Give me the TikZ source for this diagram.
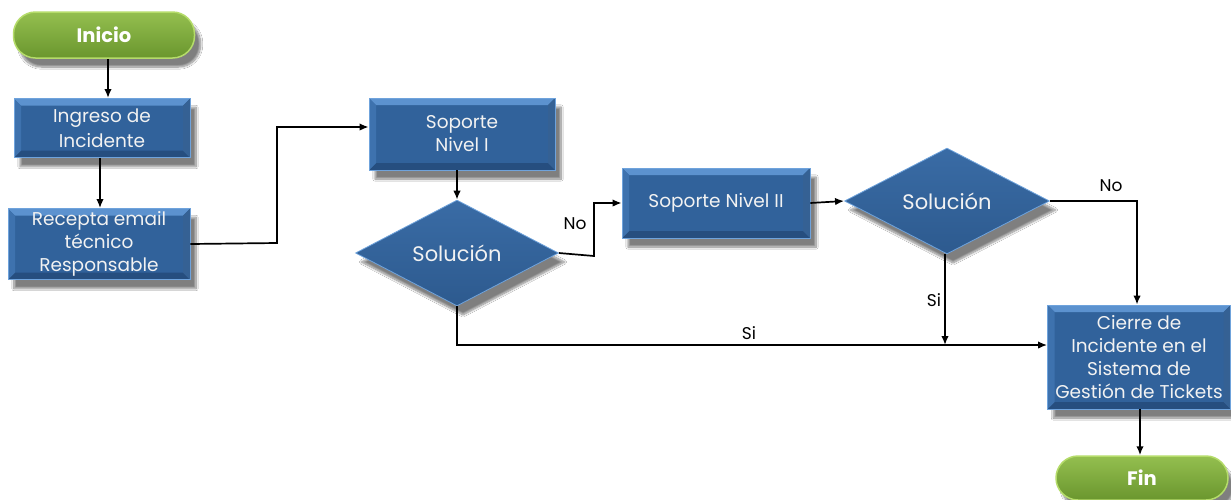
\documentclass[tikz,border=0pt]{standalone}
\usepackage{fontspec}
\setmainfont{Poppins}
\usetikzlibrary{shapes.geometric,shadows.blur,arrows.meta,calc}
\definecolor{face}{HTML}{31629B}
\definecolor{bvtop}{HTML}{5C92CF}
\definecolor{bvside}{HTML}{3E72AE}
\definecolor{bvbot}{HTML}{264E7F}
\definecolor{edge}{HTML}{6FA3DC}
\definecolor{gtop}{HTML}{94BF4F}
\definecolor{gbot}{HTML}{6A962E}
\definecolor{gedge}{HTML}{B5DC6A}
\definecolor{txt}{HTML}{F2F2F2}
\tikzset{
  shad/.style={blur shadow={shadow xshift=6pt,shadow yshift=-9pt,shadow blur steps=10,shadow opacity=50}},
  bevel/.style={path picture={
    \fill[bvtop] (path picture bounding box.north west) -- (path picture bounding box.north east)
      -- ([xshift=-7pt,yshift=-7pt]path picture bounding box.north east) -- ([xshift=7pt,yshift=-7pt]path picture bounding box.north west) -- cycle;
    \fill[bvbot] (path picture bounding box.south west) -- (path picture bounding box.south east)
      -- ([xshift=-7pt,yshift=7pt]path picture bounding box.south east) -- ([xshift=7pt,yshift=7pt]path picture bounding box.south west) -- cycle;
    \fill[bvside] (path picture bounding box.north west) -- (path picture bounding box.south west)
      -- ([xshift=7pt,yshift=7pt]path picture bounding box.south west) -- ([xshift=7pt,yshift=-7pt]path picture bounding box.north west) -- cycle;
    \fill[bvside!85!black] (path picture bounding box.north east) -- (path picture bounding box.south east)
      -- ([xshift=-7pt,yshift=7pt]path picture bounding box.south east) -- ([xshift=-7pt,yshift=-7pt]path picture bounding box.north east) -- cycle;
  }},
  box/.style={rectangle, shad, fill=face, draw=edge, line width=0.8pt, bevel, inner sep=1pt,
    text=txt, align=center, font=\fontsize{18.5}{23}\selectfont},
  decision/.style={diamond, shad, draw=edge, line width=0.8pt, inner sep=0pt,
    top color=face!80!bvtop, bottom color=face!92!black, text=txt, font=\fontsize{21}{24}\selectfont},
  terminal/.style={rectangle, rounded corners=22pt, shad, draw=gedge, line width=1.5pt,
    top color=gtop, bottom color=gbot, text=white, font=\fontsize{19.5}{22}\selectfont\bfseries},
  arr/.style={-{Latex[length=9pt,width=7.5pt]}, line width=1.7pt, black},
  lbl/.style={font=\fontsize{17}{20}\selectfont, text=black},
}
\begin{document}
\begin{tikzpicture}[x=1pt,y=-1pt]
\useasboundingbox[fill=white] (0,0) rectangle (1231,499);

\node[terminal, minimum width=181, minimum height=46] (inicio) at (104,35) {Inicio};
\node[box, minimum width=176, minimum height=59, font=\fontsize{18.5}{25}\selectfont] (ingreso) at (102,128) {Ingreso de\\Incidente};
\node[box, minimum width=182, minimum height=71] (recepta) at (99,244) {Recepta email\\técnico\\Responsable};
\node[box, minimum width=186, minimum height=72] (sni) at (462,134) {Soporte\\Nivel I};
\node[decision, minimum width=203, minimum height=103] (d1) at (457,253) {Solución};
\node[box, minimum width=188, minimum height=70] (snii) at (716,203) {Soporte Nivel II};
\node[decision, minimum width=205, minimum height=105] (d2) at (947,201) {Solución};
\node[box, minimum width=183, minimum height=104] (cierre) at (1139,357) {Cierre de\\Incidente en el\\Sistema de\\Gestión de Tickets};
\node[terminal, minimum width=172, minimum height=44] (fin) at (1142,478) {Fin};

\coordinate (k1) at (277,243);
\coordinate (k2) at (594,256);
\coordinate (j) at (945,345);

\draw[arr] (inicio.south -| 108,0) -- (108,98);
\draw[arr] (ingreso.south -| 100,0) -- (recepta.north -| 100,0);
\draw[arr] (recepta.east) -- (k1) |- ([yshift=7pt]sni.west);
\draw[arr] (d1.north |- sni.south) -- (d1.north);
\draw[arr] (d1.east) -- (k2) |- (snii.west);
\draw[arr] (snii.east) -- (d2.west);
\draw[arr] (d2.east) -| (cierre.north -| 1137,0);
\draw[arr] (d2.south -| j) -- (j);
\draw[arr] (d1.south) |- ([yshift=12pt]cierre.west);
\draw[arr] (cierre.south -| 1140,0) -- (fin.north -| 1140,0);

\node[lbl] (no1) at (575,224) {No};
\node[lbl] (no2) at (1111,186) {No};
\node[lbl] (si1) at (934,300) {Si};
\node[lbl] (si2) at (749,333) {Si};
\end{tikzpicture}
\end{document}
